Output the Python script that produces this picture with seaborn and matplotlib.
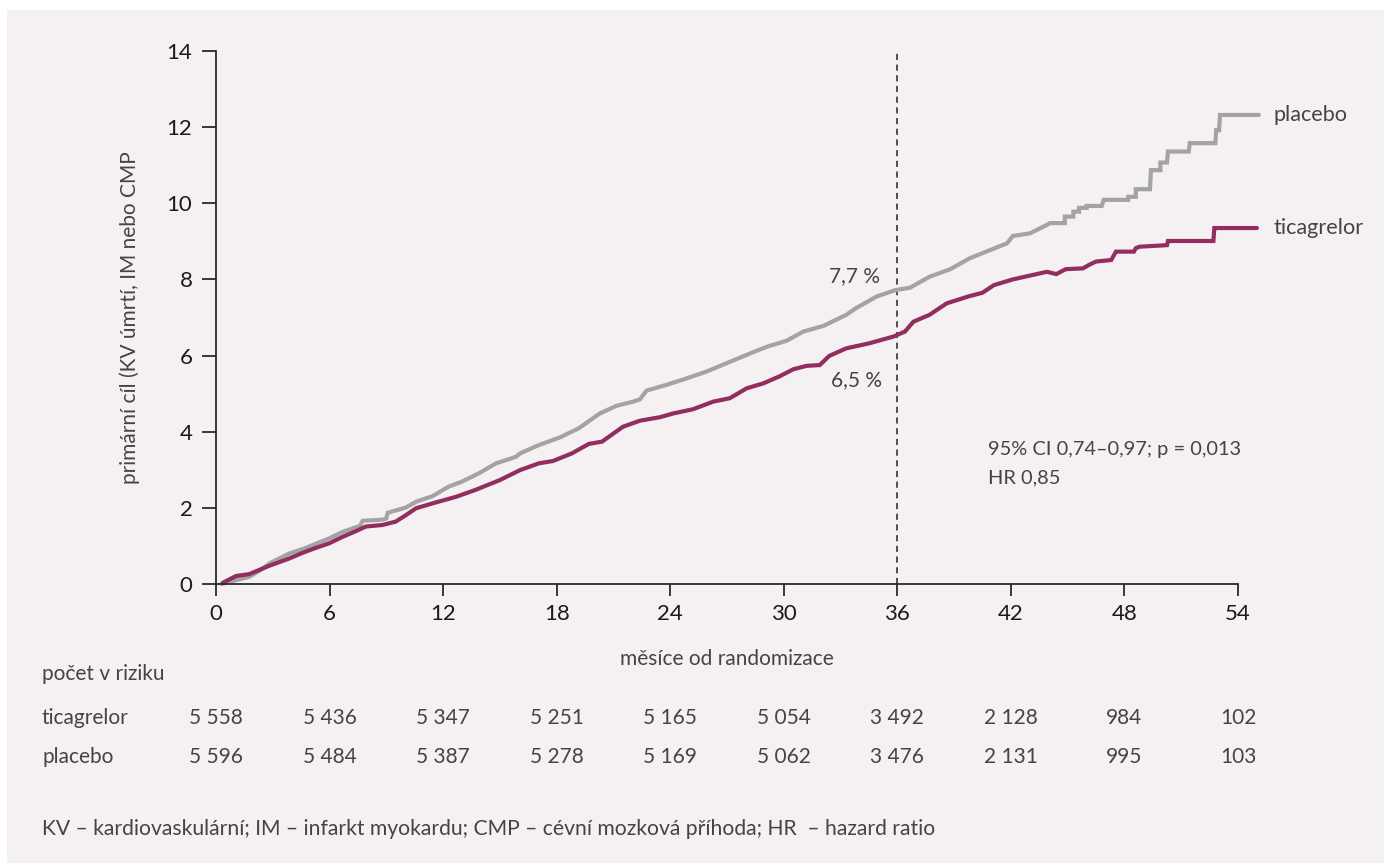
import matplotlib
matplotlib.use("Agg")
import matplotlib.pyplot as plt
import matplotlib.transforms as mtransforms
from matplotlib.patches import Rectangle
import seaborn as sns
import pandas as pd

# ---------------- data ----------------
placebo_months = [0.3, 1.06, 1.76, 2.3, 2.82, 3.87, 4.75, 5.99, 6.69, 7.4, 7.6, 7.75, 8.8, 9.0,
                  9.07, 10.04, 10.57, 11.45, 12.3, 13.0, 13.9, 14.8, 15.85, 16.06, 17.06, 18.17,
                  19.17, 20.28, 21.16, 22.04, 22.4, 22.75, 23.8, 24.86, 25.92, 26.98, 28.04,
                  29.1, 30.15, 31.03, 32.1, 33.3, 33.8, 34.9, 35.9, 36.66, 37.7, 38.8, 39.8,
                  40.9, 41.8, 42.1, 43.0, 43.9, 44.06, 44.85, 44.85, 45.3, 45.3, 45.6, 45.6,
                  46.0, 46.0, 46.8, 46.9, 48.2, 48.2, 48.6, 48.6, 49.35, 49.4, 49.9, 49.9,
                  50.25, 50.3, 51.4, 51.45, 52.8, 52.85, 53.0, 53.05, 55.1]
placebo_values = [0.0, 0.10, 0.19, 0.35, 0.54, 0.80, 0.95, 1.20, 1.37, 1.49, 1.52, 1.66, 1.69, 1.72,
                  1.87, 2.01, 2.16, 2.31, 2.56, 2.69, 2.91, 3.17, 3.34, 3.43, 3.65, 3.85,
                  4.09, 4.48, 4.68, 4.79, 4.85, 5.08, 5.23, 5.40, 5.58, 5.80, 6.02,
                  6.23, 6.39, 6.63, 6.78, 7.07, 7.24, 7.55, 7.72, 7.78, 8.07, 8.27, 8.55,
                  8.77, 8.95, 9.14, 9.21, 9.43, 9.48, 9.48, 9.65, 9.65, 9.78, 9.78, 9.88,
                  9.88, 9.93, 9.93, 10.09, 10.09, 10.17, 10.17, 10.37, 10.37, 10.87, 10.87, 11.07,
                  11.07, 11.36, 11.36, 11.58, 11.58, 11.92, 11.92, 12.32, 12.32]

ticagrelor_months = [0.35, 1.06, 1.76, 2.29, 2.82, 3.87, 4.58, 5.28, 5.99, 6.69, 7.4, 7.92, 8.8,
                     9.5, 10.04, 10.57, 11.6, 12.68, 13.7, 14.8, 15.0, 16.06, 17.06, 17.8, 18.8,
                     19.7, 20.4, 21.5, 22.4, 23.45, 24.16, 25.2, 26.27, 27.15, 28.04, 28.92,
                     29.8, 30.5, 31.2, 31.9, 32.4, 33.3, 34.5, 35.8, 36.4, 36.85, 37.7, 38.6,
                     39.8, 40.5, 41.1, 42.1, 43.9, 44.4, 44.9, 45.8, 46.2, 46.5, 47.3, 47.55,
                     48.5, 48.6, 48.8, 50.25, 50.3, 52.7, 52.75, 55.0]
ticagrelor_values = [0.03, 0.21, 0.26, 0.37, 0.48, 0.67, 0.82, 0.95, 1.07, 1.24, 1.39, 1.51, 1.55,
                     1.64, 1.81, 1.99, 2.14, 2.29, 2.47, 2.69, 2.73, 2.99, 3.17, 3.23, 3.43,
                     3.68, 3.74, 4.13, 4.29, 4.38, 4.48, 4.59, 4.79, 4.88, 5.14, 5.27,
                     5.46, 5.64, 5.73, 5.75, 5.99, 6.19, 6.32, 6.50, 6.63, 6.89, 7.07, 7.37,
                     7.56, 7.65, 7.85, 8.00, 8.20, 8.14, 8.27, 8.29, 8.40, 8.47, 8.51, 8.73,
                     8.73, 8.82, 8.86, 8.90, 9.01, 9.01, 9.35, 9.35]

x_ticks = [0, 6, 12, 18, 24, 30, 36, 42, 48, 54]
y_ticks = [0, 2, 4, 6, 8, 10, 12, 14]
risk_ticagrelor = [5558, 5436, 5347, 5251, 5165, 5054, 3492, 2128, 984, 102]
risk_placebo = [5596, 5484, 5387, 5278, 5169, 5062, 3476, 2131, 995, 103]
series_names = ["placebo", "ticagrelor"]
landmark_month = 36
landmark_labels = ["7,7 %", "6,5 %"]

# ---------------- style ----------------
sns.set_style("ticks")
FONT = ["Lato", "DejaVu Sans"]
plt.rcParams["font.family"] = FONT
plt.rcParams["font.weight"] = "normal"

W, H = 1391, 865
fig = plt.figure(figsize=(W / 100, H / 100), dpi=100, facecolor="white")
bg = Rectangle((7 / W, 1 - 863 / H), (1384 - 7) / W, (863 - 10) / H,
               transform=fig.transFigure, facecolor="#f5f0f2",
               edgecolor="none", zorder=-100)
fig.add_artist(bg)

PX_PER_MONTH = (1238 - 216) / 54
XMAX = 56
ax = fig.add_axes([216 / W, 1 - 584 / H, XMAX * PX_PER_MONTH / W, 533 / H])
ax.set_facecolor("none")
ax.set_zorder(5)

df = pd.concat([
    pd.DataFrame({"month": placebo_months, "value": placebo_values, "group": "placebo"}),
    pd.DataFrame({"month": ticagrelor_months, "value": ticagrelor_values, "group": "ticagrelor"}),
], ignore_index=True)

palette = {"placebo": "#a3a3a3", "ticagrelor": "#922e5f"}
sns.lineplot(data=df, x="month", y="value", hue="group", palette=palette,
             estimator=None, sort=False, linewidth=3.0, legend=False, ax=ax,
             clip_on=False, solid_joinstyle="miter", solid_capstyle="round")

ax.axvline(landmark_month, ymin=0, ymax=1, color="#222222", linewidth=1.1,
           dashes=(4, 3), zorder=1)

ax.set_xlim(0, XMAX)
ax.set_ylim(0, 14)
ax.set_xticks(x_ticks)
ax.set_yticks(y_ticks)
ax.set_xticklabels([str(t) for t in x_ticks])
ax.set_yticklabels([str(t) for t in y_ticks])
for s in ["top", "right"]:
    ax.spines[s].set_visible(False)
ax.spines["bottom"].set_bounds(0, 54)
for s in ["left", "bottom"]:
    ax.spines[s].set_color("#2a2a2a")
    ax.spines[s].set_linewidth(1.3)
ax.tick_params(axis="y", length=10, width=1.3, color="#2a2a2a", pad=7,
               labelsize=16, labelcolor="#1a1a1a")
ax.tick_params(axis="x", length=8.5, width=1.3, color="#2a2a2a", pad=6,
               labelsize=16, labelcolor="#1a1a1a")
ax.set_xlabel("")
ax.set_ylabel("")

TXT = "#444444"
fs = 15

# series labels at line ends
ax.text(55.9, placebo_values[-1], series_names[0], ha="left", va="center",
        fontsize=fs + 0.6, color=TXT)
ax.text(55.9, ticagrelor_values[-1], series_names[1], ha="left", va="center",
        fontsize=fs + 0.6, color=TXT)

# landmark annotations
ax.text(35.1, 8.1, landmark_labels[0], ha="right", va="center", fontsize=fs, color=TXT)
ax.text(35.2, 5.36, landmark_labels[1], ha="right", va="center", fontsize=fs, color=TXT)

ax.text(40.8, 3.52, "95% CI 0,74–0,97; p = 0,013", ha="left", va="center",
        fontsize=fs - 0.6, color=TXT)
ax.text(40.8, 2.8, "HR 0,85", ha="left", va="center", fontsize=fs - 0.6, color=TXT)

# axis titles
fig.text(130 / W, 1 - 318 / H, "primární cíl (KV úmrtí, IM nebo CMP", rotation=90,
         ha="center", va="center", fontsize=fs, color=TXT)
fig.text((216 + 27 * PX_PER_MONTH) / W, 1 - 659 / H, "měsíce od randomizace",
         ha="center", va="center", fontsize=fs, color=TXT)

# risk table
blend = mtransforms.blended_transform_factory(ax.transData, fig.transFigure)
fig.text(42 / W, 1 - 674 / H, "počet v riziku", ha="left", va="center",
         fontsize=fs, color=TXT)
fig.text(42 / W, 1 - 718 / H, "ticagrelor", ha="left", va="center", fontsize=fs, color=TXT)
fig.text(42 / W, 1 - 757 / H, "placebo", ha="left", va="center", fontsize=fs, color=TXT)


def fmt(n):
    return f"{n:,}".replace(",", " ")


for t, a, b in zip(x_ticks, risk_ticagrelor, risk_placebo):
    ax.text(t, 1 - 718 / H, fmt(a), transform=blend, ha="center", va="center",
            fontsize=fs, color=TXT)
    ax.text(t, 1 - 757 / H, fmt(b), transform=blend, ha="center", va="center",
            fontsize=fs, color=TXT)

fig.text(42 / W, 1 - 829 / H,
         "KV – kardiovaskulární; IM – infarkt myokardu; CMP – cévní mozková příhoda; HR  – hazard ratio",
         ha="left", va="center", fontsize=fs + 0.2, color=TXT)

fig.savefig("out.png", dpi=100, facecolor="white")
